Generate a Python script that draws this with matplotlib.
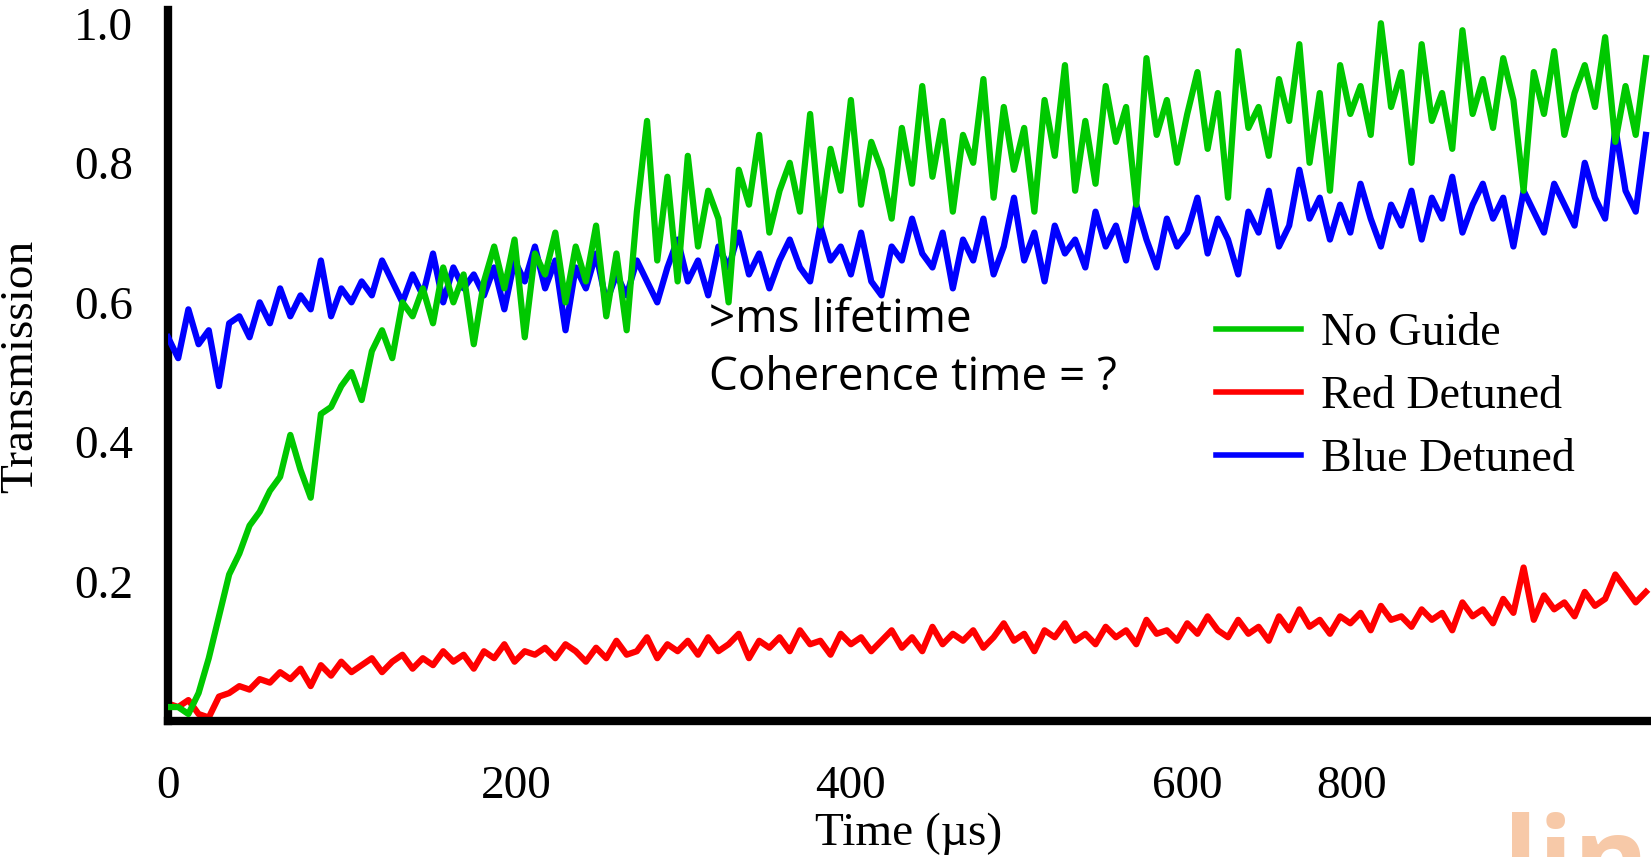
import numpy as np
import matplotlib
matplotlib.use("Agg")
import matplotlib.pyplot as plt
from matplotlib.lines import Line2D

# ---------------- data ----------------
time_us = np.arange(0, 876, 6)  # sampling grid, 6 us

no_guide = [
    0.02, 0.02, 0.01, 0.04, 0.09, 0.15, 0.21, 0.24, 0.28, 0.30,
    0.33, 0.35, 0.41, 0.36, 0.32, 0.44, 0.45, 0.48, 0.50, 0.46,
    0.53, 0.56, 0.52, 0.60, 0.58, 0.62, 0.57, 0.65, 0.60, 0.64,
    0.54, 0.63, 0.68, 0.62, 0.69, 0.55, 0.67, 0.64, 0.70, 0.60,
    0.68, 0.63, 0.71, 0.58, 0.67, 0.56, 0.73, 0.86, 0.66, 0.78,
    0.63, 0.81, 0.68, 0.76, 0.72, 0.60, 0.79, 0.74, 0.84, 0.70,
    0.76, 0.80, 0.73, 0.87, 0.71, 0.82, 0.76, 0.89, 0.74, 0.83,
    0.79, 0.72, 0.85, 0.77, 0.91, 0.78, 0.86, 0.73, 0.84, 0.80,
    0.92, 0.75, 0.88, 0.79, 0.85, 0.73, 0.89, 0.81, 0.94, 0.76,
    0.86, 0.77, 0.91, 0.83, 0.88, 0.74, 0.95, 0.84, 0.89, 0.80,
    0.87, 0.93, 0.82, 0.90, 0.75, 0.96, 0.85, 0.88, 0.81, 0.92,
    0.86, 0.97, 0.80, 0.90, 0.76, 0.94, 0.87, 0.91, 0.84, 1.00,
    0.88, 0.93, 0.80, 0.97, 0.86, 0.90, 0.82, 0.99, 0.87, 0.92,
    0.85, 0.95, 0.89, 0.76, 0.93, 0.87, 0.96, 0.84, 0.90, 0.94,
    0.88, 0.98, 0.83, 0.91, 0.84, 0.95,
]

red_detuned = [
    0.025, 0.02, 0.03, 0.01, 0.005, 0.035, 0.04, 0.05, 0.045, 0.06,
    0.055, 0.07, 0.06, 0.075, 0.05, 0.08, 0.065, 0.085, 0.07, 0.08,
    0.09, 0.07, 0.085, 0.095, 0.075, 0.09, 0.08, 0.10, 0.085, 0.095,
    0.075, 0.10, 0.09, 0.11, 0.085, 0.10, 0.095, 0.105, 0.09, 0.11,
    0.10, 0.085, 0.105, 0.09, 0.115, 0.095, 0.10, 0.12, 0.09, 0.11,
    0.10, 0.115, 0.095, 0.12, 0.10, 0.11, 0.125, 0.09, 0.115, 0.105,
    0.12, 0.10, 0.13, 0.11, 0.115, 0.095, 0.125, 0.11, 0.12, 0.10,
    0.115, 0.13, 0.105, 0.12, 0.10, 0.135, 0.11, 0.125, 0.115, 0.13,
    0.105, 0.12, 0.14, 0.115, 0.125, 0.10, 0.13, 0.12, 0.14, 0.115,
    0.125, 0.11, 0.135, 0.12, 0.13, 0.11, 0.145, 0.125, 0.13, 0.115,
    0.14, 0.125, 0.15, 0.13, 0.12, 0.145, 0.125, 0.135, 0.115, 0.15,
    0.13, 0.16, 0.135, 0.145, 0.125, 0.15, 0.14, 0.155, 0.13, 0.165,
    0.145, 0.15, 0.135, 0.16, 0.145, 0.155, 0.13, 0.17, 0.15, 0.16,
    0.14, 0.175, 0.155, 0.22, 0.145, 0.18, 0.16, 0.17, 0.15, 0.185,
    0.165, 0.175, 0.21, 0.19, 0.17, 0.185,
]

blue_detuned = [
    0.55, 0.52, 0.59, 0.54, 0.56, 0.48, 0.57, 0.58, 0.55, 0.60,
    0.57, 0.62, 0.58, 0.61, 0.59, 0.66, 0.58, 0.62, 0.60, 0.63,
    0.61, 0.66, 0.63, 0.60, 0.64, 0.61, 0.67, 0.60, 0.65, 0.62,
    0.64, 0.61, 0.65, 0.59, 0.66, 0.63, 0.68, 0.62, 0.66, 0.56,
    0.65, 0.62, 0.67, 0.60, 0.64, 0.61, 0.66, 0.63, 0.60, 0.65,
    0.69, 0.63, 0.66, 0.61, 0.68, 0.65, 0.70, 0.64, 0.67, 0.62,
    0.66, 0.69, 0.65, 0.63, 0.71, 0.66, 0.68, 0.64, 0.70, 0.63,
    0.61, 0.68, 0.66, 0.72, 0.67, 0.65, 0.70, 0.62, 0.69, 0.66,
    0.72, 0.64, 0.68, 0.75, 0.66, 0.70, 0.63, 0.71, 0.67, 0.69,
    0.65, 0.73, 0.68, 0.71, 0.66, 0.74, 0.69, 0.65, 0.72, 0.68,
    0.70, 0.75, 0.67, 0.72, 0.69, 0.64, 0.73, 0.70, 0.76, 0.68,
    0.71, 0.79, 0.72, 0.75, 0.69, 0.74, 0.70, 0.77, 0.72, 0.68,
    0.74, 0.71, 0.76, 0.69, 0.75, 0.72, 0.78, 0.70, 0.74, 0.77,
    0.72, 0.75, 0.68, 0.76, 0.73, 0.70, 0.77, 0.74, 0.71, 0.80,
    0.75, 0.72, 0.85, 0.76, 0.73, 0.84,
]

series_labels = ["No Guide", "Red Detuned", "Blue Detuned"]
series_colors = ["#00C800", "#FF0000", "#0000FF"]

ytick_values = [0.2, 0.4, 0.6, 0.8, 1.0]
ytick_labels = ["0.2", "0.4", "0.6", "0.8", "1.0"]
xtick_values = [0, 205, 402, 600, 697]
xtick_labels = ["0", "200", "400", "600", "800"]

annotation_lines = [">ms lifetime", "Coherence time = ?"]

# ---------------- figure ----------------
W, H = 1651, 857
fig = plt.figure(figsize=(W / 100, H / 100), dpi=100)
ax = fig.add_axes([168 / W, 1 - 721 / H, 1 - 168 / W, (721 - 10) / H])

serif = ["Liberation Serif", "DejaVu Serif"]
sans = ["Open Sans", "DejaVu Sans"]
LW = 4.5

ax.plot(time_us, red_detuned, color=series_colors[1], lw=LW, solid_joinstyle="round", zorder=2)
ax.plot(time_us, blue_detuned, color=series_colors[2], lw=LW, solid_joinstyle="round", zorder=3)
ax.plot(time_us, no_guide, color=series_colors[0], lw=LW, solid_joinstyle="round", zorder=4)

ax.set_xlim(0, 873)
ax.set_ylim(0, 1.019)

for s in ["top", "right"]:
    ax.spines[s].set_visible(False)
for s in ["left", "bottom"]:
    ax.spines[s].set_linewidth(6)
    ax.spines[s].set_color("black")
    ax.spines[s].set_capstyle("projecting")

ax.set_yticks(ytick_values)
ax.set_yticklabels(ytick_labels, fontfamily=serif, fontsize=34)
ax.set_xticks(xtick_values)
ax.set_xticklabels(xtick_labels, fontfamily=serif, fontsize=34)
ax.tick_params(axis="y", length=0, pad=25)
ax.tick_params(axis="x", length=0, pad=32)

fig.text(909 / W, 1 - 834 / H, "Time (\u00b5s)", fontfamily=serif, fontsize=34,
         ha="center", va="center")
fig.text(21 / W, 1 - 366 / H, "Transmission", fontfamily=serif, fontsize=34,
         ha="center", va="center", rotation=90)

fig.text(709 / W, 1 - 320 / H, annotation_lines[0], fontfamily=sans,
         fontsize=33, ha="left", va="center")
fig.text(709 / W, 1 - 378 / H, annotation_lines[1], fontfamily=sans,
         fontsize=33, ha="left", va="center")

handles = [Line2D([], [], color=c, lw=4.0) for c in series_colors]
leg = fig.legend(handles, series_labels, loc="center left",
                 bbox_to_anchor=(1216 / W, 1 - 397 / H), frameon=False,
                 prop={"family": serif, "size": 33}, handlelength=1.85,
                 handletextpad=0.45, labelspacing=0.45, borderpad=0, borderaxespad=0)

fig.text(1503 / W, 1 - 899 / H, "lin", fontfamily=sans,
         fontweight="bold", fontsize=83, color="#F7C9A8", ha="left", va="baseline")

fig.savefig("out.png", dpi=100)
